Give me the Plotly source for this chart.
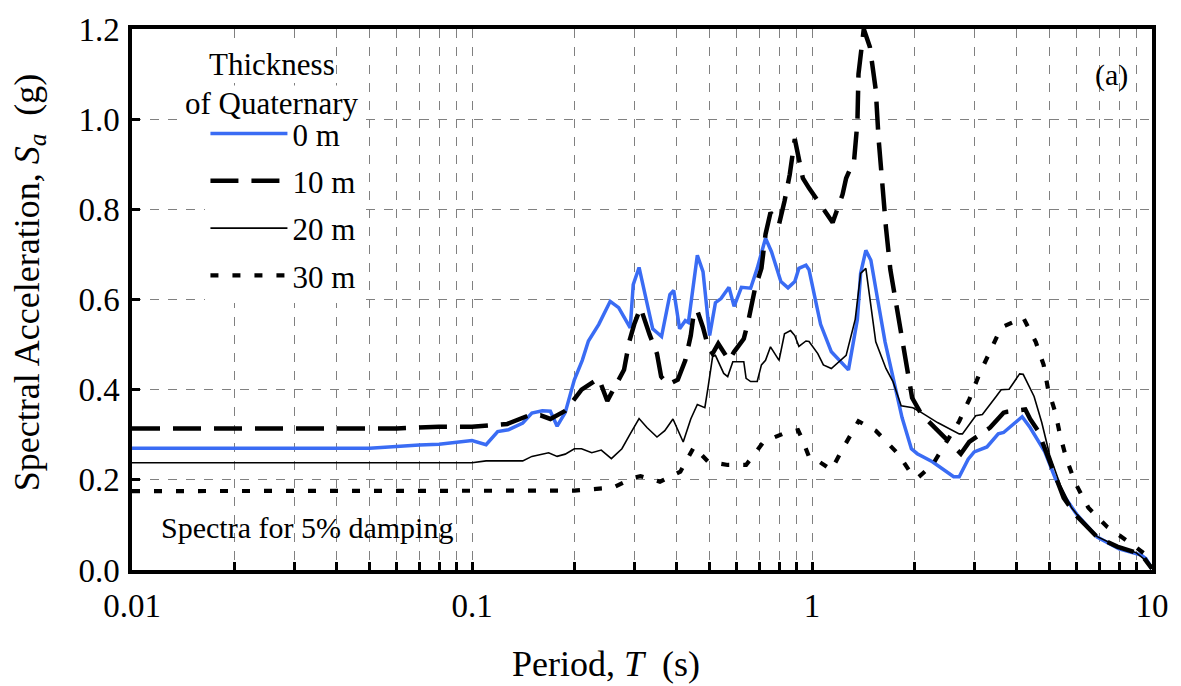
import plotly.graph_objects as go

# Response spectra (5% damping) for four thicknesses of Quaternary deposits
period_0m = [0.01, 0.05, 0.07, 0.08, 0.1, 0.105, 0.11, 0.119, 0.128, 0.141, 0.150, 0.161, 0.170, 0.178,
             0.188, 0.200, 0.211, 0.220, 0.236, 0.255, 0.270, 0.292, 0.298, 0.310, 0.327, 0.340, 0.361,
             0.382, 0.392, 0.408, 0.424, 0.433, 0.46, 0.478, 0.50, 0.52, 0.54, 0.57, 0.59, 0.62, 0.66,
             0.69, 0.73, 0.76, 0.81, 0.85, 0.89, 0.915, 0.96, 0.98, 1.02, 1.06, 1.14, 1.28, 1.36, 1.39,
             1.44, 1.49, 1.56, 1.64, 1.75, 1.84, 1.96, 2.04, 2.26, 2.42, 2.61, 2.71, 2.88, 3.0, 3.27,
             3.53, 3.66, 4.15, 4.38, 4.84, 5.19, 5.56, 6.0, 6.9, 8.0, 9.3, 9.6, 10.0]
sa_0m = [0.270, 0.270, 0.277, 0.279, 0.287, 0.282, 0.278, 0.307, 0.311, 0.326, 0.348, 0.353, 0.352, 0.319,
         0.349, 0.422, 0.465, 0.508, 0.545, 0.596, 0.582, 0.537, 0.633, 0.671, 0.596, 0.535, 0.518,
         0.611, 0.620, 0.535, 0.553, 0.549, 0.698, 0.662, 0.520, 0.593, 0.602, 0.627, 0.585, 0.627, 0.625,
         0.669, 0.736, 0.706, 0.640, 0.626, 0.640, 0.669, 0.676, 0.666, 0.604, 0.545, 0.484, 0.444, 0.556, 0.658,
         0.709, 0.687, 0.600, 0.506, 0.411, 0.338, 0.269, 0.258, 0.240, 0.225, 0.207, 0.207, 0.246, 0.262, 0.273,
         0.302, 0.305, 0.340, 0.316, 0.262, 0.204, 0.160, 0.124, 0.073, 0.047, 0.033, 0.025, 0.003]

period_10m = [0.01, 0.06, 0.08, 0.1, 0.127, 0.146, 0.159, 0.17, 0.188, 0.21, 0.236, 0.25, 0.28, 0.29, 0.30,
              0.313, 0.333, 0.35, 0.36, 0.377, 0.403, 0.424, 0.44, 0.45, 0.46, 0.478, 0.495, 0.51, 0.53,
              0.55, 0.57, 0.59, 0.63, 0.65, 0.68, 0.71, 0.73, 0.755, 0.80, 0.83, 0.86, 0.89, 0.91, 0.94,
              0.98, 1.07, 1.15, 1.23, 1.26, 1.33, 1.36, 1.37, 1.42, 1.48, 1.54, 1.57, 1.61, 1.65, 1.70,
              1.80, 1.88, 1.97, 2.1, 2.3, 2.5, 2.74, 2.9, 3.34, 3.66, 3.75, 4.24, 4.38, 4.62, 4.9, 5.13,
              5.5, 6.0, 6.9, 7.9, 9.3, 10.0]
sa_10m = [0.314, 0.314, 0.318, 0.318, 0.324, 0.342, 0.343, 0.335, 0.353, 0.400, 0.425, 0.375, 0.444, 0.506, 0.545,
          0.582, 0.522, 0.480, 0.429, 0.411, 0.422, 0.465, 0.520, 0.575, 0.575, 0.538, 0.495, 0.480, 0.502,
          0.484, 0.465, 0.484, 0.513, 0.553, 0.625, 0.669, 0.745, 0.793, 0.767, 0.818, 0.877, 0.956, 0.920, 0.869,
          0.847, 0.804, 0.771, 0.833, 0.869, 0.909, 0.993, 1.100, 1.200, 1.160, 1.065, 0.956, 0.847, 0.760, 0.666,
          0.556, 0.476, 0.382, 0.345, 0.316, 0.287, 0.258, 0.284, 0.316, 0.349, 0.351, 0.356, 0.335, 0.309, 0.258, 0.218,
          0.160, 0.120, 0.073, 0.052, 0.035, 0.003]

period_20m = [0.01, 0.1, 0.11, 0.141, 0.15, 0.168, 0.178, 0.188, 0.2, 0.21, 0.225, 0.24, 0.257, 0.276, 0.292,
              0.31, 0.327, 0.35, 0.369, 0.39, 0.418, 0.44, 0.46, 0.484, 0.495, 0.51, 0.52, 0.55, 0.565,
              0.585, 0.63, 0.64, 0.66, 0.69, 0.71, 0.73, 0.755, 0.80, 0.83, 0.865, 0.89, 0.915, 0.96, 0.98,
              1.04, 1.08, 1.14, 1.26, 1.34, 1.39, 1.44, 1.54, 1.65, 1.73, 1.83, 1.98, 2.1, 2.34, 2.71, 2.77,
              3.03, 3.17, 3.48, 3.6, 3.8, 4.08, 4.18, 4.5, 4.74, 5.0, 5.37, 5.8, 6.3, 6.9, 7.8, 9.0, 9.8, 10.0]
sa_20m = [0.238, 0.238, 0.242, 0.242, 0.252, 0.260, 0.252, 0.257, 0.269, 0.269, 0.260, 0.266, 0.247, 0.269, 0.302,
          0.336, 0.316, 0.295, 0.309, 0.335, 0.284, 0.335, 0.367, 0.360, 0.407, 0.473, 0.476, 0.436, 0.429,
          0.462, 0.462, 0.425, 0.418, 0.418, 0.455, 0.465, 0.495, 0.465, 0.524, 0.531, 0.520, 0.496, 0.508, 0.507,
          0.480, 0.455, 0.447, 0.476, 0.556, 0.658, 0.669, 0.506, 0.447, 0.418, 0.364, 0.360, 0.349, 0.327, 0.302, 0.302,
          0.342, 0.345, 0.385, 0.400, 0.401, 0.435, 0.434, 0.385, 0.327, 0.255, 0.189, 0.138, 0.105, 0.074, 0.055, 0.038, 0.015, 0.003]

period_30m = [0.01, 0.2, 0.26, 0.30, 0.313, 0.357, 0.41, 0.44, 0.45, 0.495, 0.565, 0.64, 0.72, 0.82, 0.91,
              0.93, 0.98, 1.0, 1.14, 1.24, 1.37, 1.54, 1.79, 1.97, 2.05, 2.26, 2.71, 2.9, 3.1, 3.35, 3.6,
              4.18, 4.55, 4.8, 4.95, 5.2, 5.37, 5.6, 5.95, 6.5, 7.4, 8.7, 9.5, 10.0]
sa_30m = [0.175, 0.176, 0.183, 0.205, 0.208, 0.196, 0.218, 0.262, 0.273, 0.240, 0.233, 0.233, 0.284, 0.302, 0.310,
          0.295, 0.251, 0.251, 0.222, 0.273, 0.330, 0.309, 0.258, 0.211, 0.205, 0.233, 0.330, 0.378, 0.433, 0.487, 0.538,
          0.560, 0.506, 0.455, 0.400, 0.349, 0.298, 0.247, 0.193, 0.138, 0.095, 0.058, 0.036, 0.003]

series_names = ["0 m", "10 m", "20 m", "30 m"]

# Log-axis ticks: labelled decades plus unlabelled 2..9 multiples
x_major_vals = [0.01, 0.1, 1, 10]
x_major_text = ["0.01", "0.1", "1", "10"]
x_minor_vals = [m * 10.0 ** e for e in (-2, -1, 0) for m in range(2, 10)]
y_tick_vals = [0.0, 0.2, 0.4, 0.6, 0.8, 1.0, 1.2]

FONT = "Liberation Serif, Times New Roman, serif"

styles = [
    dict(color="#3a6cf4", width=3.5, dash="solid"),
    dict(color="black", width=4.5, dash="28px,13px"),
    dict(color="black", width=1.6, dash="solid"),
    dict(color="black", width=4.2, dash="8px,14px"),
]
periods = [period_0m, period_10m, period_20m, period_30m]
values = [sa_0m, sa_10m, sa_20m, sa_30m]

fig = go.Figure()
for name, t, sa, st in zip(series_names, periods, values, styles):
    fig.add_trace(go.Scatter(
        x=t, y=sa, mode="lines", name=name, legendgroup=name,
        line=dict(color=st["color"], width=st["width"], dash=st["dash"]),
    ))

GRID = dict(showgrid=True, gridcolor="#808080", gridwidth=1, griddash="dash")
axis_common = dict(
    showline=True, linecolor="black", linewidth=3.5, mirror=True,
    ticks="inside", tickcolor="black", tickwidth=3, ticklen=8,
    zeroline=False,
    tickfont=dict(family=FONT, size=33, color="black"),
    **GRID,
)

fig.update_xaxes(
    type="log", range=[-2, 1],
    tickvals=x_major_vals, ticktext=x_major_text, ticklabelstandoff=4,
    minor=dict(tickvals=x_minor_vals, ticks="inside", ticklen=8, tickwidth=3, tickcolor="black", **GRID),
    **axis_common,
)
fig.update_yaxes(
    range=[0, 1.2], tickvals=y_tick_vals, tickformat=".1f", ticklabelstandoff=2,
    **axis_common,
)

TITLE_FONT = dict(family=FONT, size=36, color="black")
LEG_FONT = dict(family=FONT, size=31, color="black")

fig.update_layout(
    width=1181, height=686,
    margin=dict(l=132, r=23, t=20, b=116),
    plot_bgcolor="white", paper_bgcolor="white",
    font=dict(family=FONT, color="black"),
    legend=dict(
        x=0.072, y=0.856, xanchor="left", yanchor="top",
        bgcolor="white", borderwidth=0,
        font=LEG_FONT,
        itemwidth=77, tracegroupgap=4,
    ),
    annotations=[
        # axis titles
        dict(text="Period, <i>T</i>  (s)", xref="paper", yref="paper", x=0.465, y=-0.173,
             xanchor="center", yanchor="middle", showarrow=False, font=TITLE_FONT),
        dict(text="Spectral Acceleration, <i>S<sub>a</sub></i>  (g)", xref="paper", yref="paper",
             x=-0.101, y=0.532, xanchor="center", yanchor="middle", textangle=-90,
             showarrow=False, font=TITLE_FONT),
        # legend heading
        dict(text="Thickness", xref="paper", yref="paper", x=0.1374, y=0.9345,
             xanchor="center", yanchor="middle", showarrow=False, bgcolor="white",
             borderpad=0, font=LEG_FONT),
        dict(text="of Quaternary", xref="paper", yref="paper", x=0.1365, y=0.8618,
             xanchor="center", yanchor="middle", showarrow=False, bgcolor="white",
             borderpad=0, font=LEG_FONT),
        dict(text="Spectra for 5% damping", xref="paper", yref="paper", x=0.026, y=0.078,
             xanchor="left", yanchor="middle", showarrow=False,
             font=dict(family=FONT, size=30, color="black")),
        dict(text="(a)", xref="paper", yref="paper", x=0.96, y=0.915,
             xanchor="center", yanchor="middle", showarrow=False,
             font=dict(family=FONT, size=30, color="black")),
    ],
)

fig.write_html("out.html")
